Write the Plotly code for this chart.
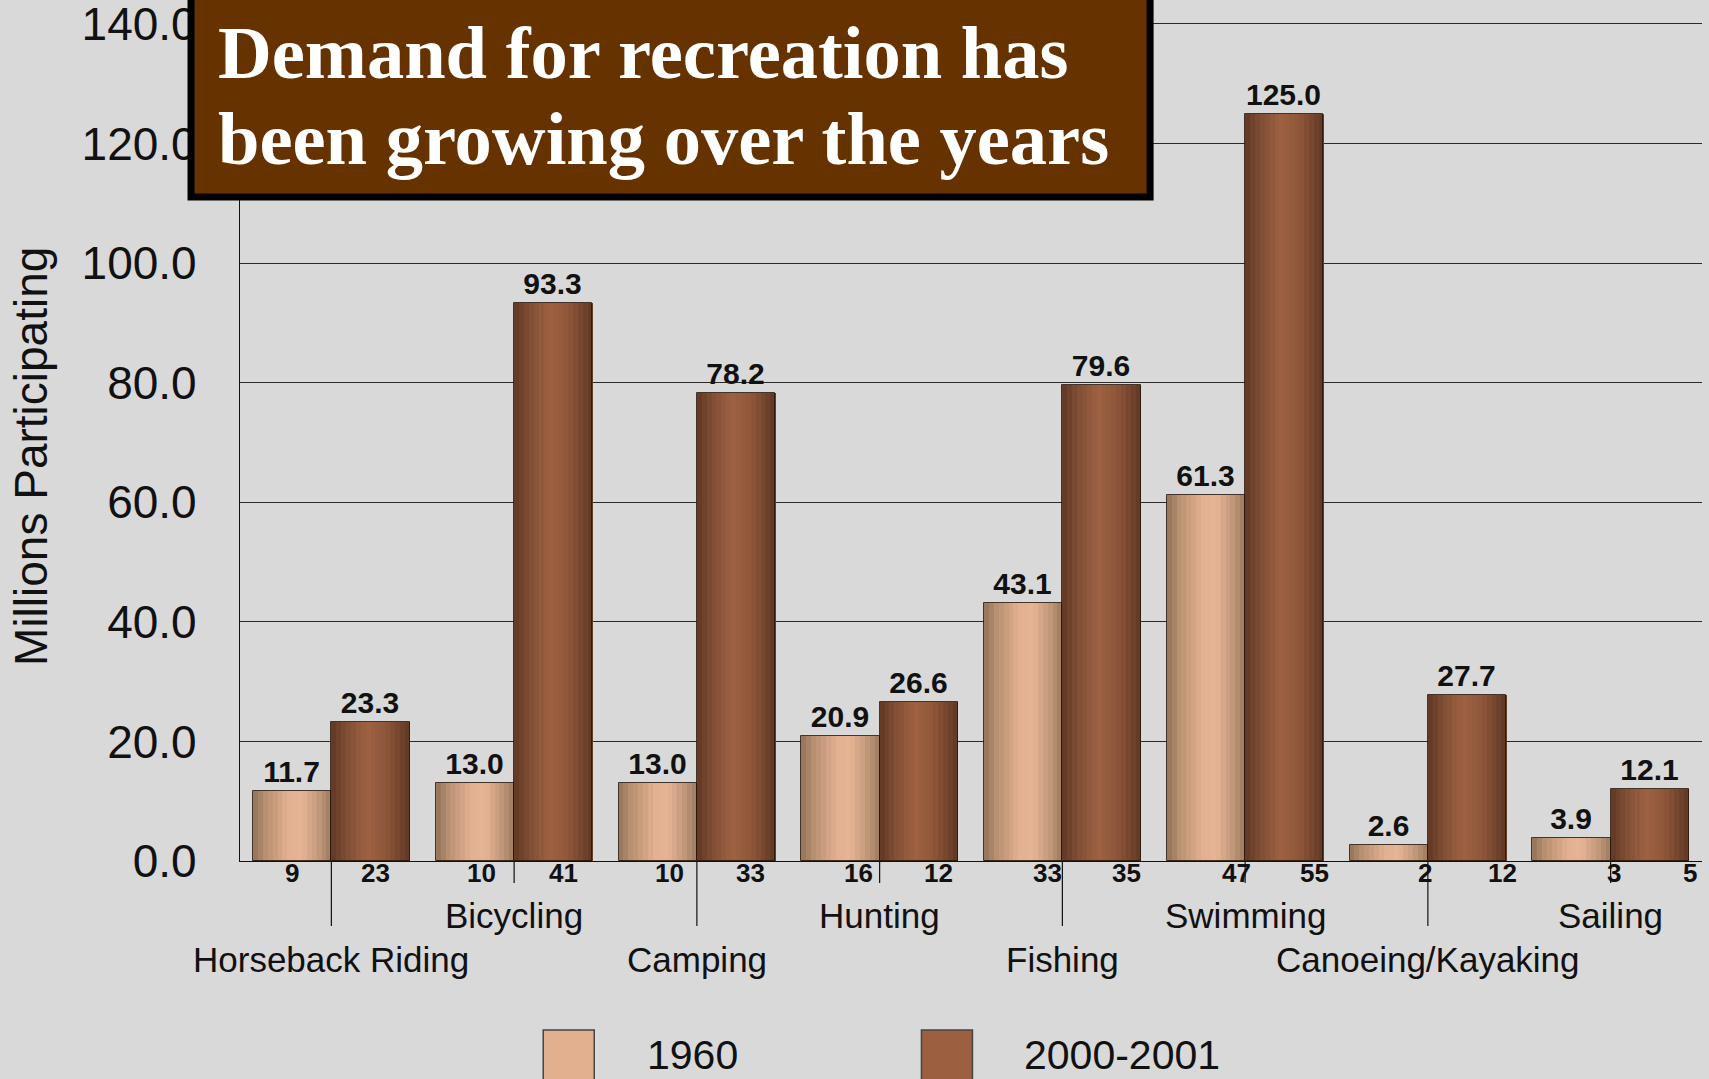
import plotly.graph_objects as go

# ---------------- data ----------------
categories = ["Horseback Riding", "Bicycling", "Camping", "Hunting",
              "Fishing", "Swimming", "Canoeing/Kayaking", "Sailing"]
series_names = ["1960", "2000-2001"]
values_1960 = [11.7, 13.0, 13.0, 20.9, 43.1, 61.3, 2.6, 3.9]
values_2000 = [23.3, 93.3, 78.2, 26.6, 79.6, 125.0, 27.7, 12.1]
sub_1960 = ["9", "10", "10", "16", "33", "47", "2", "3"]
sub_2000 = ["23", "41", "33", "12", "35", "55", "12", "5"]
y_ticks = [0, 20, 40, 60, 80, 100, 120, 140]
title_lines = ["Demand for recreation has", "been growing over the years"]
y_title = "Millions Participating"

# ---------------- style ----------------
BG = "#D9D9D9"
W = 0.4286          # width of each bar (category units)
N = 16              # strips used to shade each bar
SANS = "Liberation Sans, Arial, sans-serif"
NARROW = "Liberation Sans Narrow, Arial Narrow, Liberation Sans, Arial, sans-serif"
SERIF = "Liberation Serif, Times New Roman, serif"

stops_1960 = [(0.0, (146, 114, 88)), (0.15, (182, 142, 112)), (0.45, (226, 176, 144)),
              (0.62, (230, 181, 150)), (0.85, (192, 150, 120)), (1.0, (156, 122, 96))]
stops_2000 = [(0.0, (96, 56, 36)), (0.2, (128, 78, 53)), (0.45, (158, 98, 66)),
              (0.7, (142, 86, 58)), (1.0, (94, 56, 36))]


def shade(stops, t):
    for (t0, c0), (t1, c1) in zip(stops[:-1], stops[1:]):
        if t0 <= t <= t1:
            f = (t - t0) / (t1 - t0) if t1 > t0 else 0
            c = [round(a + (b - a) * f) for a, b in zip(c0, c1)]
            return "rgb(%d,%d,%d)" % tuple(c)
    return "rgb(%d,%d,%d)" % stops[-1][1]


x_idx = list(range(len(categories)))
fig = go.Figure()

for vals, base_off, stops in [(values_1960, -W, stops_1960), (values_2000, 0.0, stops_2000)]:
    sw = W / N
    for k in range(N):
        t = (k + 0.5) / N
        fig.add_trace(go.Bar(
            x=x_idx, y=vals, width=sw * 1.08, offset=base_off + k * sw,
            marker=dict(color=shade(stops, t), line=dict(width=0)),
            showlegend=False, hoverinfo="skip"))

for name, vals, base_off in [(series_names[0], values_1960, -W), (series_names[1], values_2000, 0.0)]:
    fig.add_trace(go.Bar(
        x=x_idx, y=vals, width=W, offset=base_off, name=name,
        marker=dict(color="rgba(0,0,0,0)", line=dict(color="rgba(40,22,12,0.85)", width=1)),
        text=["%.1f" % v for v in vals], textposition="outside",
        textfont=dict(family=SANS, size=30, color="#111111", weight="bold"),
        cliponaxis=False, showlegend=False))

# plot area geometry (pixels): y=0 at 861 px, 5.979 px per unit
Y_MAX = 140.5
PLOT_H = 837 * Y_MAX / 140.0
TOP = 861 - PLOT_H
H = 1079
BOTTOM = H - 861


def py(pix):
    """paper y for a pixel row"""
    return (861 - pix) / PLOT_H


shapes = []
annotations = []

# separators and labels under the axis
for i, cat in enumerate(categories):
    long_sep = (i % 2 == 0)
    shapes.append(dict(type="line", xref="x", yref="paper", x0=i, x1=i, y0=0,
                       y1=py(926) if long_sep else py(883),
                       line=dict(color="#111111", width=1.2)))
    annotations.append(dict(xref="x", yref="paper", x=i, y=py(959) if long_sep else py(915),
                            text=cat, showarrow=False, xanchor="center", yanchor="middle",
                            font=dict(family=SANS, size=35, color="#111111")))
    annotations.append(dict(xref="x", yref="paper", x=i - 0.214 + 0.033 * i, y=py(873),
                            text=sub_1960[i], showarrow=False, xanchor="center", yanchor="middle",
                            font=dict(family=NARROW, size=26, color="#111111", weight="bold")))
    annotations.append(dict(xref="x", yref="paper", x=i + 0.24 + 0.028 * i, y=py(873),
                            text=sub_2000[i], showarrow=False, xanchor="center", yanchor="middle",
                            font=dict(family=NARROW, size=26, color="#111111", weight="bold")))

# title box
shapes.append(dict(type="rect", xref="paper", yref="paper", x0=-0.0335, x1=0.6225,
                   y0=py(197), y1=py(-15), fillcolor="#663300",
                   line=dict(color="#000000", width=7), layer="above"))
for line_text, yy in zip(title_lines, [py(53), py(139)]):
    annotations.append(dict(xref="paper", yref="paper", x=-0.0164, y=yy, text="<b>%s</b>" % line_text,
                            showarrow=False, xanchor="left", yanchor="middle",
                            font=dict(family=SERIF, size=74.5, color="#FFFFFF")))

# y axis title
annotations.append(dict(xref="paper", yref="paper", x=-0.1430, y=py(456), text=y_title,
                        textangle=-90, showarrow=False, xanchor="center", yanchor="middle",
                        font=dict(family=SANS, size=46, color="#111111")))

# custom legend
legend_cols = [("#E2B08E", 0.2074, 0.2423, 0.2772), ("#9C6040", 0.4661, 0.5010, 0.5346)]
for name, (col, x0, x1, xt) in zip(series_names, legend_cols):
    shapes.append(dict(type="rect", xref="paper", yref="paper", x0=x0, x1=x1, y0=py(1030), y1=py(1100),
                       fillcolor=col, line=dict(color="#444444", width=1.5)))
    annotations.append(dict(xref="paper", yref="paper", x=xt, y=py(1055), text=name,
                            showarrow=False, xanchor="left", yanchor="middle",
                            font=dict(family=SANS, size=41, color="#111111")))

fig.update_layout(
    width=1709, height=H,
    margin=dict(l=240, r=7, t=TOP, b=BOTTOM, autoexpand=False),
    paper_bgcolor=BG, plot_bgcolor=BG,
    barmode="overlay", bargap=0, showlegend=False,
    shapes=shapes, annotations=annotations,
    xaxis=dict(range=[-0.5, 7.5], showticklabels=False, showgrid=False, zeroline=False,
               showline=True, linecolor="#111111", linewidth=1.2, ticks="", automargin=False),
    yaxis=dict(range=[0, Y_MAX], tickvals=y_ticks, ticktext=["%.1f" % v for v in y_ticks],
               showgrid=True, gridcolor="#2a2a2a", gridwidth=1, zeroline=False,
               showline=True, linecolor="#111111", linewidth=1.2, ticks="",
               ticklabelstandoff=33, automargin=False, ticklabeloverflow="allow",
               tickfont=dict(family=SANS, size=46, color="#111111")),
)

fig.write_html("out.html")
